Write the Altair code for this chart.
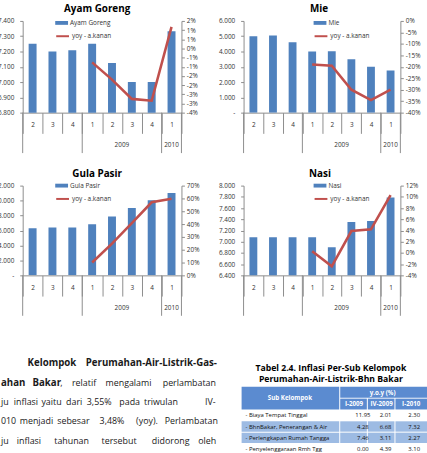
import altair as alt
import pandas as pd

# ---------------- data ----------------
CATS = ["2008-2", "2008-3", "2008-4", "2009-1", "2009-2", "2009-3", "2009-4", "2010-1"]
YEAR_LABELS = ["2009", "2010"]
LINE_NAME = "yoy - a.kanan"

AYAM_PRICE = [7250, 7200, 7208, 7250, 7125, 7000, 7000, 7333]
AYAM_YOY = [None, None, None, -0.76, -1.70, -2.75, -2.85, 1.18]
MIE_PRICE = [5000, 5050, 4600, 4000, 4010, 3500, 3000, 2750]
MIE_YOY = [None, None, None, -19.0, -19.5, -30.0, -34.5, -30.0]
GULA_PRICE = [6300, 6400, 6400, 6850, 7870, 9000, 10050, 11000]
GULA_YOY = [None, None, None, 10.0, 24.8, 40.7, 57.0, 59.8]
NASI_PRICE = [7080, 7080, 7080, 7080, 6900, 7350, 7370, 7790]
NASI_YOY = [None, None, None, 0.3, -2.4, 3.9, 4.2, 10.3]

PARA_WORDS = [
    ["Kelompok", "Perumahan-Air-Listrik-Gas-"],
    ["ahan", "Bakar", ",", "relatif", "mengalami", "perlambatan"],
    ["ju", "inflasi", "yaitu", "dari", "3,55%", "pada", "triwulan", "IV-"],
    ["010", "menjadi", "sebesar", "3,48%", "(yoy).", "Perlambatan"],
    ["ju", "inflasi", "tahunan", "tersebut", "didorong", "oleh"],
]
PARA_BOLD = [[1, 1], [1, 1, 0, 0, 0, 0], [0] * 8, [0] * 6, [0] * 6]

TABLE_TITLE = ["Tabel 2.4. Inflasi Per-Sub Kelompok", "Perumahan-Air-Listrik-Bhn Bakar"]
TABLE_HEAD = ["Sub Kelompok", "y.o.y (%)"]
TABLE_COLS = ["I-2009", "IV-2009", "I-2010"]
SUB_ROWS = ["- Biaya Tempat Tinggal", "- BhnBakar, Penerangan & Air",
            "- Perlengkapan Rumah Tangga", "- Penyelenggaraan Rmh Tgg"]
V_I2009 = [11.95, 4.28, 7.46, 0.00]
V_IV2009 = [2.01, 6.68, 3.11, 4.39]
V_I2010 = [2.30, 7.32, 2.27, 3.10]

# ---------------- style ----------------
BLUE = "#4F81BD"
RED = "#C0504D"
AX = "#8C8C8C"
LAB = "#333333"
FONT = "Open Sans"

THOUSANDS = ("datum.value == 0 ? '-' : floor(datum.value / 1000) + '.' + "
             "slice('00' + (datum.value % 1000), -3)")
PCT = "(datum.value < -1e-9 ? '-' : '') + round(abs(datum.value) * 100 + 1e-9) + '%'"


def panel(title, name, price, yoy, ydom, ystep, rdom, rstep, w, h, legx, legy, tdx):
    df = pd.DataFrame({
        "cat": CATS,
        "price": price,
        "yoy": [None if v is None else v / 100 for v in yoy],
        "s1": name,
        "s2": LINE_NAME,
    })
    xsc = alt.Scale(domain=CATS, paddingInner=0, paddingOuter=0)
    xax = alt.Axis(title=None, labelExpr="split(datum.value, '-')[1]", tickBand="extent",
                   tickSize=21, labelPadding=-9, labelBaseline="middle", labelAngle=0,
                   domainColor=AX, tickColor=AX, labelFontSize=6.5, labelColor=LAB,
                   labelFont=FONT)

    def xenc(bp=None):
        if bp is None:
            return alt.X("cat:N", sort=CATS, scale=xsc, axis=xax)
        return alt.X("cat:N", sort=CATS, scale=xsc, axis=xax, bandPosition=bp)

    lvals = list(range(ydom[0], ydom[1] + 1, ystep))
    n = int(round((rdom[1] - rdom[0]) / rstep))
    rvals = [round(rdom[0] + i * rstep, 6) for i in range(n + 1)]

    bars = alt.Chart(df).mark_bar(width=alt.RelativeBandSize(0.4), clip=True).encode(
        x=xenc(),
        y=alt.Y("price:Q", scale=alt.Scale(domain=ydom, zero=False, nice=False),
                axis=alt.Axis(title=None, values=lvals, grid=False, tickSize=3, labelPadding=6,
                              labelExpr=THOUSANDS,
                              domainColor=AX, tickColor=AX, labelFontSize=6.5, labelColor=LAB,
                              labelFont=FONT)),
        fill=alt.Fill("s1:N", scale=alt.Scale(range=[BLUE]),
                      legend=alt.Legend(title=None, orient="none", legendX=legx, legendY=legy,
                                        symbolType="M-1,-0.3H1V0.3H-1Z", symbolSize=169,
                                        symbolStrokeWidth=0, labelOffset=2, padding=0,
                                        labelFontSize=6.5, labelFont=FONT, labelColor=LAB)),
    )
    line = alt.Chart(df).transform_filter("isValid(datum.yoy)").mark_line(strokeWidth=2.6).encode(
        x=xenc(),
        y=alt.Y("yoy:Q", scale=alt.Scale(domain=rdom, zero=False, nice=False),
                axis=alt.Axis(title=None, orient="right", values=rvals, grid=False, tickSize=3,
                              labelPadding=2, labelExpr=PCT,
                              domainColor=AX, tickColor=AX, labelFontSize=6.5, labelColor=LAB,
                              labelFont=FONT)),
        stroke=alt.Stroke("s2:N", scale=alt.Scale(range=[RED]),
                          legend=alt.Legend(title=None, orient="none", legendX=legx, legendY=legy + 12.5,
                                            symbolType="stroke", symbolSize=169, symbolStrokeWidth=2,
                                            labelOffset=2, padding=0, labelFontSize=6.5,
                                            labelFont=FONT, labelColor=LAB)),
    )

    # year-group separators and labels
    years = [c.split("-")[0] for c in CATS]
    starts = [c for i, c in enumerate(CATS) if i == 0 or years[i - 1] != years[i]]
    sep = alt.Chart(pd.DataFrame({"cat": starts})).mark_rule(color=AX, strokeWidth=1).encode(
        x=xenc(0), y=alt.value(h), y2=alt.value(h + 41))
    sep_end = alt.Chart(pd.DataFrame({"cat": [CATS[-1]]})).mark_rule(color=AX, strokeWidth=1).encode(
        x=xenc(1), y=alt.value(h), y2=alt.value(h + 41))
    even, odd = [], []
    for yl in YEAR_LABELS:
        g = [c for c, y in zip(CATS, years) if y == yl]
        if len(g) % 2 == 0:
            even.append({"cat": g[len(g) // 2], "label": yl})
        else:
            odd.append({"cat": g[len(g) // 2], "label": yl})
    ttl = alt.Chart(pd.DataFrame({"t": [title]})).mark_text(
        fontSize=10, font=FONT, fontWeight="bold", color="#000000", baseline="middle",
        align="center").encode(x=alt.value(w / 2 + tdx), y=alt.value(-12), text="t:N")
    layers = [bars, line, sep, sep_end, ttl]
    for rows, bp in ((even, 0), (odd, 0.5)):
        if rows:
            layers.append(alt.Chart(pd.DataFrame(rows)).mark_text(
                fontSize=6.5, font=FONT, color=LAB, baseline="middle").encode(
                x=xenc(bp), y=alt.value(h + 33), text="label:N"))

    return alt.layer(*layers).resolve_scale(y="independent", fill="independent",
                                            stroke="independent").properties(width=w, height=h)


p1 = panel("Ayam Goreng", "Ayam Goreng", AYAM_PRICE, AYAM_YOY, [6800, 7400], 100,
           [-0.035, 0.015], 0.005, 161, 93, 33, -4.5, -5)
p2 = panel("Mie", "Mie", MIE_PRICE, MIE_YOY, [0, 6000], 1000,
           [-0.40, 0.0], 0.05, 159, 93, 71, -4.5, -3)
p3 = panel("Gula Pasir", "Gula Pasir", GULA_PRICE, GULA_YOY, [0, 12000], 2000,
           [0.0, 0.70], 0.10, 161, 91, 33, -6.5, -5)
p4 = panel("Nasi", "Nasi", NASI_PRICE, NASI_YOY, [6400, 8000], 200,
           [-0.04, 0.12], 0.02, 159, 91, 71, -6.5, -2)

# ---------------- text + table panel ----------------
OX, OY = 22, 351  # panel origin on the page
PARA_X = [[27, 86], [0, 32, 60, 72, 106, 164], [0, 13, 41, 66, 87, 120, 145, 207],
          [0, 19, 57, 100, 137, 166], [0, 16, 54, 102, 153, 200]]
PARA_Y = [366, 385.7, 405.3, 425, 444.6]

reg, bold = [], []
for words, flags, xs, y in zip(PARA_WORDS, PARA_BOLD, PARA_X, PARA_Y):
    for wd, b, x in zip(words, flags, xs):
        (bold if b else reg).append({"t": wd, "x": x - OX, "y": y - OY})


def texts(rows, **props):
    return alt.Chart(pd.DataFrame(rows)).mark_text(baseline="middle", **props).encode(
        x=alt.X("x:Q", scale=None), y=alt.Y("y:Q", scale=None), text="t:N")


HEAD_BG = "#5B8BD0"
ROW_BG = "#9DBBE3"
C0, C1, C2, C3, C4 = 244, 344, 372, 400, 432
rects = [
    {"x": C0, "x2": C1 - 1, "y": 390, "y2": 413, "f": HEAD_BG},
    {"x": C1, "x2": C4, "y": 390, "y2": 401, "f": HEAD_BG},
    {"x": C1, "x2": C2 - 1, "y": 402, "y2": 413, "f": HEAD_BG},
    {"x": C2, "x2": C3 - 1, "y": 402, "y2": 413, "f": HEAD_BG},
    {"x": C3, "x2": C4, "y": 402, "y2": 413, "f": HEAD_BG},
]
ROW_Y = [418.5, 430.5, 442, 453]
ROW_SHADED = [0, 1, 1, 0]
for ry, sh in zip(ROW_Y, ROW_SHADED):
    if sh:
        for a, b in ((C0, C1 - 1), (C1, C2 - 1), (C2, C3 - 1), (C3, C4)):
            rects.append({"x": a, "x2": b, "y": ry - 5.5, "y2": ry + 5, "f": ROW_BG})
rect_df = pd.DataFrame(rects)
rect_df[["x", "x2"]] -= OX
rect_df[["y", "y2"]] -= OY
table_rects = alt.Chart(rect_df).mark_rect().encode(
    x=alt.X("x:Q", scale=None), x2="x2:Q", y=alt.Y("y:Q", scale=None), y2="y2:Q",
    color=alt.Color("f:N", scale=None))

title_rows = [{"t": TABLE_TITLE[0], "x": 334.5 - OX, "y": 371 - OY},
              {"t": TABLE_TITLE[1], "x": 334.5 - OX, "y": 382 - OY}]
head_rows = [{"t": TABLE_HEAD[0], "x": 293 - OX, "y": 401.5 - OY},
             {"t": TABLE_HEAD[1], "x": 387 - OX, "y": 396 - OY}]
COL_CX = [358, 386, 416]
for t, cx in zip(TABLE_COLS, COL_CX):
    head_rows.append({"t": t, "x": cx - OX, "y": 407.5 - OY})
sub_rows = [{"t": s, "x": 248 - OX, "y": ry - OY} for s, ry in zip(SUB_ROWS, ROW_Y)]
VAL_CX = [367, 390, 419]
val_rows = []
for ry, vals in zip(ROW_Y, zip(V_I2009, V_IV2009, V_I2010)):
    for v, cx in zip(vals, VAL_CX):
        val_rows.append({"t": f"{v:.2f}", "x": cx - OX, "y": ry - OY})

text_panel = alt.layer(
    texts(bold, align="left", font=FONT, fontSize=9.8, fontWeight="bold", color="#1a1a1a"),
    texts(reg, align="left", font=FONT, fontSize=9.0, color="#1a1a1a"),
    table_rects,
    texts(title_rows, align="center", font=FONT, fontSize=8.8, fontWeight="bold", color="#000000"),
    texts(head_rows, align="center", font=FONT, fontSize=6.3, fontWeight="bold", color="#ffffff"),
    texts(sub_rows, align="left", font=FONT, fontSize=6, color="#111111"),
    texts(val_rows, align="center", font=FONT, fontSize=6, color="#111111"),
).properties(width=161, height=110)

RES = dict(x="independent", y="independent", fill="independent", stroke="independent")
chart = alt.concat(p1, p2, p3, p4, text_panel, columns=2, bounds="flush",
                   spacing={"row": 74, "column": 63}).resolve_scale(**RES).properties(
    padding={"left": -7, "top": 1, "right": 0, "bottom": 0},
    autosize=alt.AutoSizeParams(type="pad"),
    background="white",
).configure_view(stroke=None)

chart.save("out.html", embed_options={"renderer": "svg", "actions": False})
